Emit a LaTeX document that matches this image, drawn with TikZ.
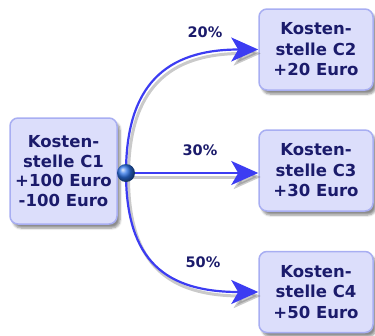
\documentclass[tikz,border=0pt]{standalone}
\usepackage{fontspec}
\setmainfont{DejaVu Sans}
\usetikzlibrary{arrows.meta,shadows.blur}
\definecolor{boxfill}{HTML}{DCDEFB}
\definecolor{boxline}{HTML}{A8AEF2}
\definecolor{txt}{HTML}{1B1B6B}
\definecolor{arr}{HTML}{3C3CF2}
\definecolor{ballc}{HTML}{2C72E6}
\begin{document}
\begin{tikzpicture}[x=1pt,y=-1pt,
  box/.style={draw=boxline, line width=1.5pt, fill=boxfill, rounded corners=8pt,
    minimum width=114pt, minimum height=81pt, inner sep=0pt, align=center, text=txt,
    font=\bfseries\fontsize{16.5}{20.5}\selectfont,
    blur shadow={shadow xshift=3pt, shadow yshift=-4pt, shadow blur steps=6, shadow opacity=45}},
  conn/.style={draw=arr, line width=2.2pt, -{Stealth[length=27pt, width=24pt, inset=7pt]},
    preaction={draw=black!60, opacity=0.35, line width=3pt,
      transform canvas={shift={(2.5pt,-4pt)}}}},
  pct/.style={text=txt, font=\bfseries\fontsize{14.5}{16}\selectfont},
  hubball/.style={circle, minimum size=18pt, inner sep=0pt, shading=ball, ball color=ballc}]
\useasboundingbox (0,0) rectangle (375,335);
\node[box, minimum width=107pt, minimum height=106pt, font=\bfseries\fontsize{16.5}{19.5}\selectfont] (c1) at (63.5,171) {Kosten-\\stelle C1\\+100 Euro\\-100 Euro};
\node[box] (c2) at (316,49.5) {Kosten-\\stelle C2\\+20 Euro};
\node[box] (c3) at (316,170.5) {Kosten-\\stelle C3\\+30 Euro};
\node[box] (c4) at (316,292) {Kosten-\\stelle C4\\+50 Euro};
\coordinate (hub) at (126,173);
\draw[conn] (hub) .. controls (126,85) and (166,49.5) .. (c2.west);
\draw[conn] (hub) -- (c3.west |- hub);
\draw[conn] (hub) .. controls (126,261) and (166,292) .. (c4.west);
\node[hubball] (ball) at (hub) {};
\node[pct] (l20) at (205,32) {20\%};
\node[pct] (l30) at (200,150) {30\%};
\node[pct] (l50) at (203,262) {50\%};
\end{tikzpicture}
\end{document}
